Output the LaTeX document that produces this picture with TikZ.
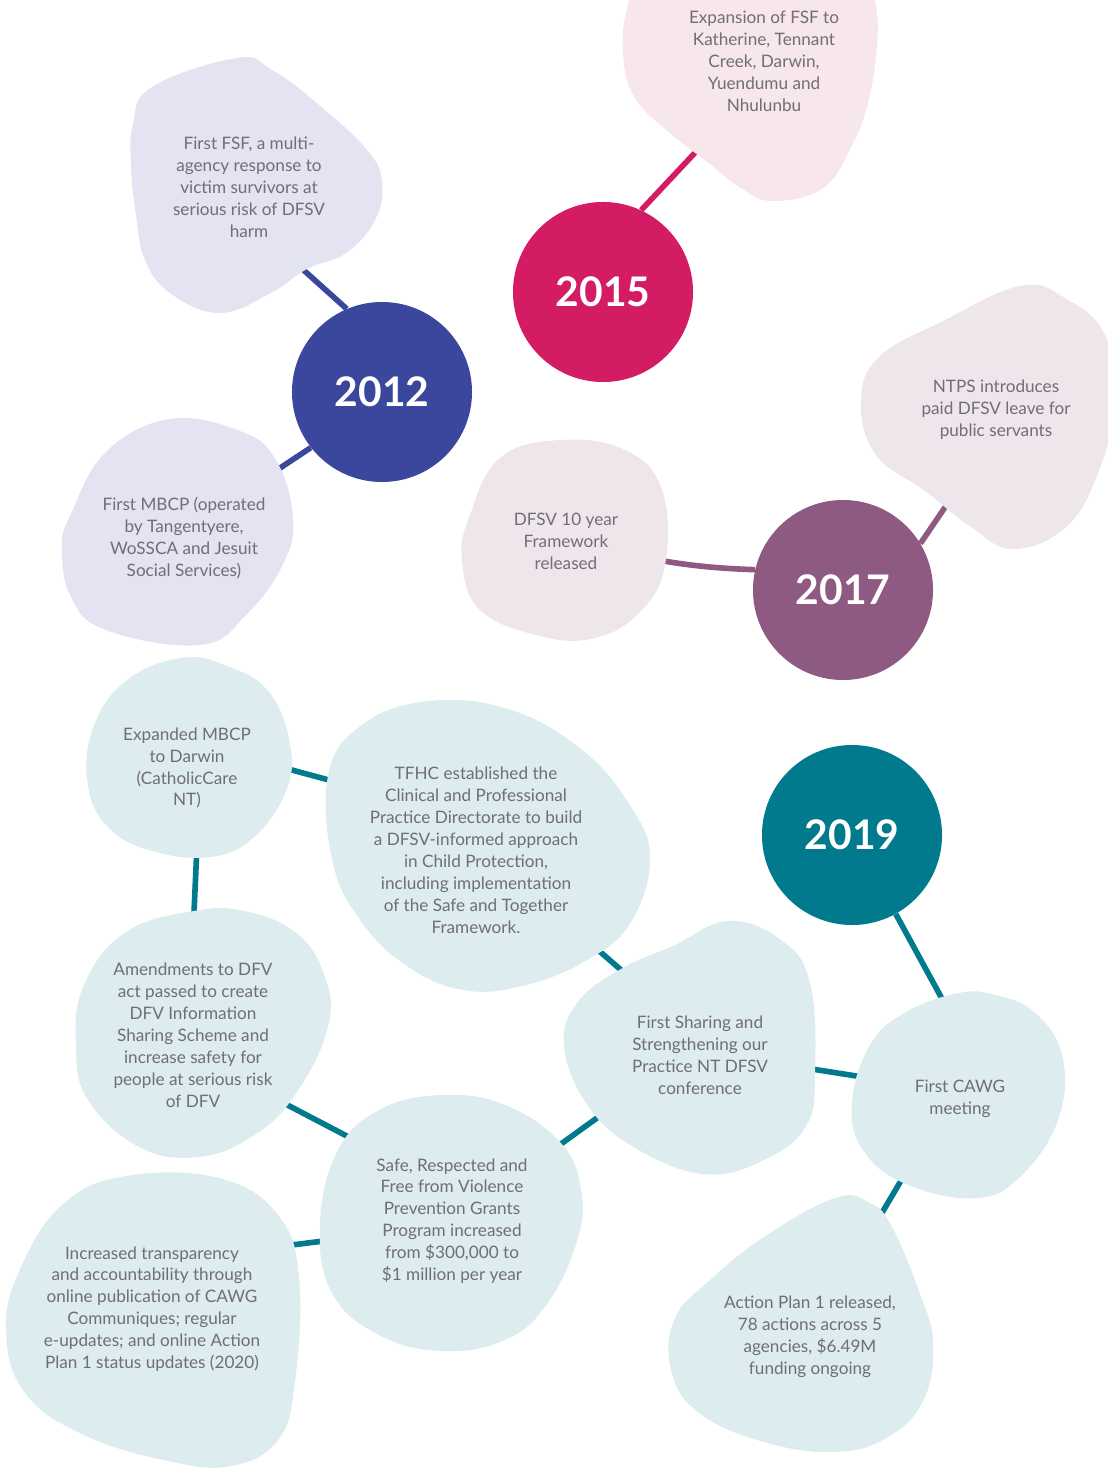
\documentclass[tikz,border=0pt]{standalone}
\usepackage{fontspec}
\setmainfont{Lato}
\pgfdeclarelayer{links}
\pgfdeclarelayer{blobs}
\pgfsetlayers{links,blobs,main}
\definecolor{blue12}{HTML}{3B479D}
\definecolor{pink15}{HTML}{D31C64}
\definecolor{plum17}{HTML}{8E5A82}
\definecolor{teal19}{HTML}{007A8C}
\definecolor{lavblob}{HTML}{E3E3F1}
\definecolor{pinkblob}{HTML}{F7E6EA}
\definecolor{plumblob}{HTML}{EFE6EB}
\definecolor{tealblob}{HTML}{DDECEE}
\definecolor{txtgray}{HTML}{706E76}

\begin{document}
\begin{tikzpicture}[x=0.025cm,y=-0.025cm]
    \tikzstyle{year}=[circle, minimum size=4.5cm, inner sep=0pt, text=white, font=\fontsize{29}{29}\selectfont\bfseries]
    \tikzstyle{event}=[align=center, inner sep=0pt, text=txtgray, font=\fontsize{12.2}{15.6}\selectfont]
    \tikzstyle{link}=[line width=4pt]
    \useasboundingbox (0,0) rectangle (1108,1470);
    % Draw the year circles
    \foreach \name/\x/\y/\col in {2012/382/392/blue12, 2015/603/292/pink15, 2017/843/590/plum17, 2019/852/835/teal19}
        \node[year, fill=\col] (y\name) at (\x,\y) {\name};
    % Draw the event texts
    \node[event] (fsf) at (249,187) {First FSF, a multi-\\agency response to\\victim survivors at\\serious risk of DFSV\\harm};
    \node[event] (mbcp) at (184,538) {First MBCP (operated\\by Tangentyere,\\WoSSCA and Jesuit\\Social Services)};
    \node[event] (exp) at (764,61) {Expansion of FSF to\\Katherine, Tennant\\Creek, Darwin,\\Yuendumu and\\Nhulunbu};
    \node[event] (ntps) at (996,410) {NTPS introduces\\paid DFSV leave for\\public servants};
    \node[event] (dfsv) at (566,541) {DFSV 10 year\\Framework\\released};
    \node[event] (expm) at (187,768) {Expanded MBCP\\to Darwin\\(CatholicCare\\NT)};
    \node[event] (tfhc) at (476,850) {TFHC established the\\Clinical and Professional\\Practice Directorate to build\\a DFSV-informed approach\\in Child Protection,\\including implementation\\of the Safe and Together\\Framework.};
    \node[event] (amend) at (193,1035) {Amendments to DFV\\act passed to create\\DFV Information\\Sharing Scheme and\\increase safety for\\people at serious risk\\of DFV};
    \node[event] (safe) at (452,1221) {Safe, Respected and\\Free from Violence\\Prevention Grants\\Program increased\\from \$300,000 to\\\$1 million per year};
    \node[event] (inc) at (152,1309) {Increased transparency\\and accountability through\\online publication of CAWG\\Communiques; regular\\e-updates; and online Action\\Plan 1 status updates (2020)};
    \node[event] (share) at (700,1055) {First Sharing and\\Strengthening our\\Practice NT DFSV\\conference};
    \node[event] (cawg) at (960,1099) {First CAWG\\meeting};
    \node[event] (act) at (810,1337) {Action Plan 1 released,\\78 actions across 5\\agencies, \$6.49M\\funding ongoing};
    % Connect the events
    \begin{pgfonlayer}{links}
        \draw[link, blue12] (fsf.-70) -- (y2012.113);
        \draw[link, blue12] (mbcp.38) -- (y2012.218);
        \draw[link, pink15] (exp.-121) -- (y2015.65);
        \draw[link, plum17] (ntps.-100) -- (y2017.31);
        \draw[link, plum17] (dfsv.-12) to[out=-12, in=178] (y2017.167);
        \draw[link, teal19] (y2019.-61) -- (cawg.36);
        \draw[link, teal19] (share.-6) -- (cawg.163);
        \draw[link, teal19] (cawg.-139) -- (act.61);
        \draw[link, teal19] (expm.-74) -- (amend.91);
        \draw[link, teal19] (expm.8) -- (tfhc.151);
        \draw[link, teal19] (tfhc.-39) -- (share.124);
        \draw[link, teal19] (amend.-38) -- (safe.135);
        \draw[link, teal19] (inc.29) -- (safe.190);
        \draw[link, teal19] (safe.35) -- (share.-151);
    \end{pgfonlayer}
    % Draw the blobs behind the texts
    \begin{pgfonlayer}{blobs}
        \fill[lavblob] plot[smooth cycle, tension=0.7] coordinates {(237,58) (152,87) (133,124) (131,166) (136,215) (145,260) (170,293) (219,313) (269,294) (307,269) (346,253) (375,220) (382,182) (367,150) (318,104) (272,70)};
        \fill[lavblob] plot[smooth cycle, tension=0.7] coordinates {(170,419) (106,452) (71,514) (62,547) (71,597) (106,630) (200,645) (247,614) (283,564) (293,518) (276,460) (240,431)};
        \fill[pinkblob] plot[smooth cycle, tension=0.7] coordinates {(650,-50) (628,5) (623,54) (635,98) (671,134) (706,161) (741,188) (773,201) (823,188) (851,147) (868,103) (877,45) (875,0) (860,-50)};
        \fill[plumblob] plot[smooth cycle, tension=0.7] coordinates {(1020,286) (943,321) (879,357) (861,402) (876,455) (925,491) (971,527) (1013,549) (1066,527) (1098,473) (1115,402) (1105,335) (1065,298)};
        \fill[plumblob] plot[smooth cycle, tension=0.7] coordinates {(560,440) (500,458) (470,515) (462,560) (480,610) (540,636) (595,638) (640,612) (665,565) (662,490) (625,450)};
        \fill[tealblob] plot[smooth cycle, tension=0.7] coordinates {(181,658) (126,681) (93,728) (88,786) (109,828) (152,851) (210,857) (253,838) (286,791) (290,744) (269,692) (227,666)};
        \fill[tealblob] plot[smooth cycle, tension=0.7] coordinates {(421,702) (358,728) (328,776) (332,859) (358,917) (404,964) (463,990) (526,985) (589,959) (631,922) (650,859) (631,807) (581,749) (505,708)};
        \fill[tealblob] plot[smooth cycle, tension=0.7] coordinates {(194,911) (126,932) (84,985) (76,1047) (88,1100) (139,1147) (198,1157) (253,1136) (295,1095) (328,1027) (324,974) (295,932) (244,911)};
        \fill[tealblob] plot[smooth cycle, tension=0.7] coordinates {(442,1095) (379,1110) (337,1152) (320,1225) (332,1293) (379,1335) (442,1351) (505,1340) (547,1304) (577,1241) (581,1189) (560,1142) (505,1105)};
        \fill[tealblob] plot[smooth cycle, tension=0.7] coordinates {(126,1176) (63,1204) (21,1267) (6,1330) (25,1393) (84,1435) (168,1461) (231,1466) (278,1440) (295,1382) (299,1278) (278,1215) (219,1178)};
        \fill[tealblob] plot[smooth cycle, tension=0.7] coordinates {(728,921) (675,945) (621,969) (578,1002) (564,1045) (586,1103) (632,1146) (703,1174) (764,1160) (806,1126) (815,1074) (810,983) (781,940)};
        \fill[tealblob] plot[smooth cycle, tension=0.7] coordinates {(959,993) (906,1012) (870,1045) (852,1103) (863,1150) (906,1184) (977,1198) (1023,1174) (1059,1117) (1062,1055) (1034,1012) (995,995)};
        \fill[tealblob] plot[smooth cycle, tension=0.7] coordinates {(835,1198) (764,1237) (710,1280) (675,1318) (671,1370) (699,1413) (764,1442) (835,1452) (888,1437) (924,1399) (933,1342) (920,1294) (892,1227) (870,1203)};
    \end{pgfonlayer}
\end{tikzpicture}
\end{document}
